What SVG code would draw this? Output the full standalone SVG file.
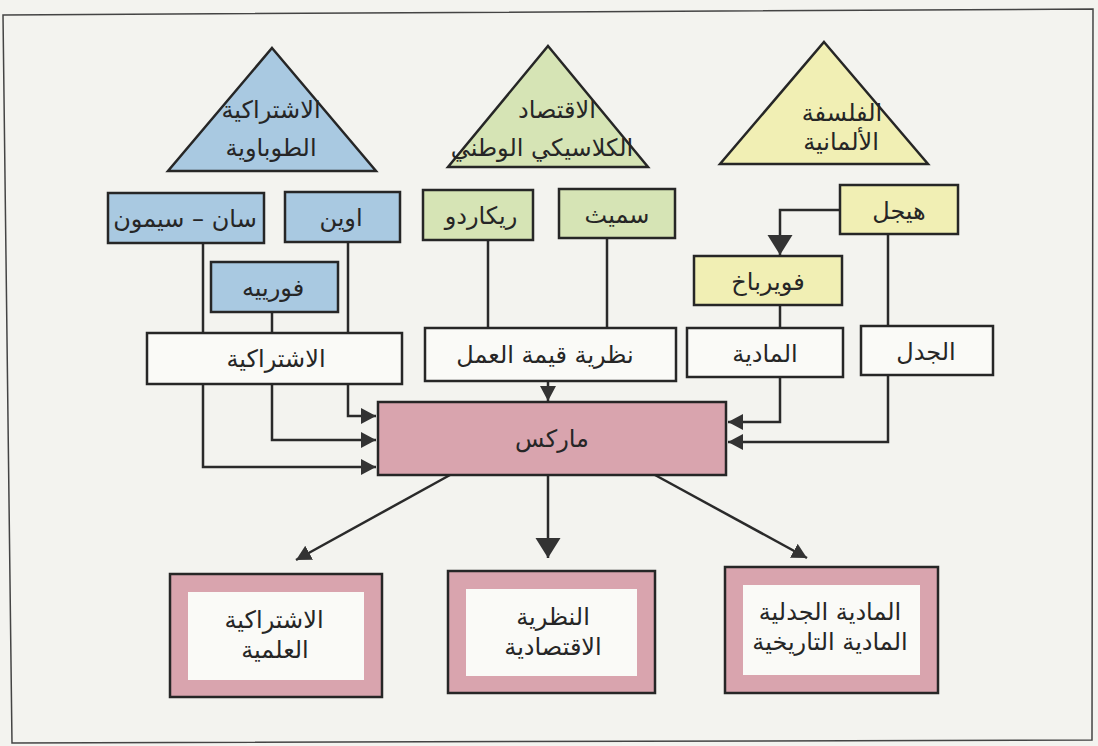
<svg xmlns="http://www.w3.org/2000/svg" width="1098" height="746" viewBox="0 0 1098 746">
<defs>
<style>
.t{font-family:"DejaVu Sans","Noto Sans",sans-serif;font-size:24px;text-anchor:middle;fill:#262626}
.box{stroke:#262626;stroke-width:2.5}
.blue{fill:#a9c9e1}
.green{fill:#d6e4b5}
.yellow{fill:#f1efb4}
.white{fill:#fafaf7}
.pink{fill:#d9a4ae}
.inner{fill:#fafaf7;stroke:none}
.c{fill:none;stroke:#2a2a2a;stroke-width:2.5}
</style>
<marker id="a" markerUnits="userSpaceOnUse" markerWidth="16" markerHeight="16" refX="15" refY="8" orient="auto"><path d="M0,0 L15,8 L0,16 z" fill="#333"/></marker>
<marker id="b" markerUnits="userSpaceOnUse" markerWidth="22" markerHeight="26" refX="20" refY="12.5" orient="auto"><path d="M0,0 L20,12.5 L0,25 z" fill="#333"/></marker>
</defs>
<rect x="0" y="0" width="1098" height="746" fill="#f3f3ef"/>
<path d="M3,15 L1093,9 L1092,740 L12,743 Z" fill="none" stroke="#444" stroke-width="1.5"/>

<g id="connectors">
<path class="c" d="M203,243 V333"/>
<path class="c" d="M272,312 V333"/>
<path class="c" d="M348,242 V333"/>
<path class="c" d="M203,384 V467 H376" marker-end="url(#a)"/>
<path class="c" d="M272,384 V440 H376" marker-end="url(#a)"/>
<path class="c" d="M348,384 V416 H376" marker-end="url(#a)"/>
<path class="c" d="M488,240 V328"/>
<path class="c" d="M607,238 V328"/>
<path class="c" d="M548,381 V401" marker-end="url(#a)"/>
<path class="c" d="M840,210 H780 V255" marker-end="url(#b)"/>
<path class="c" d="M780,305 V328"/>
<path class="c" d="M888,234 V326"/>
<path class="c" d="M780,377 V422 H728" marker-end="url(#a)"/>
<path class="c" d="M888,375 V442 H728" marker-end="url(#a)"/>
<path class="c" d="M450,475 L296,560" marker-end="url(#a)" stroke-width="2"/>
<path class="c" d="M548,475 V558" marker-end="url(#b)"/>
<path class="c" d="M655,475 L807,558" marker-end="url(#a)" stroke-width="2"/>
</g>

<g id="utopian">
<polygon class="box blue" points="272,48 376,171 168,171"/>
<text class="t" x="271" y="118">الاشتراكية</text>
<text class="t" x="271" y="156">الطوباوية</text>
</g>
<g id="classical">
<polygon class="box green" points="548,46 648,167 448,167"/>
<text class="t" x="557" y="118">الاقتصاد</text>
<text class="t" x="542" y="156">الكلاسيكي الوطني</text>
</g>
<g id="german">
<polygon class="box yellow" points="824,42 928,164 720,164"/>
<text class="t" x="842" y="121">الفلسفة</text>
<text class="t" x="841" y="150">الألمانية</text>
</g>

<g id="saint-simon"><rect class="box blue" x="108" y="193" width="156" height="50"/><text class="t" x="185" y="227">سان – سيمون</text></g>
<g id="owen"><rect class="box blue" x="285" y="192" width="115" height="50"/><text class="t" x="341" y="226">اوين</text></g>
<g id="fourier"><rect class="box blue" x="211" y="262" width="127" height="50"/><text class="t" x="273" y="296">فورييه</text></g>
<g id="socialism"><rect class="box white" x="147" y="333" width="255" height="51"/><text class="t" x="276" y="367">الاشتراكية</text></g>

<g id="ricardo"><rect class="box green" x="423" y="190" width="110" height="50"/><text class="t" x="481" y="224">ريكاردو</text></g>
<g id="smith"><rect class="box green" x="559" y="189" width="116" height="49"/><text class="t" x="617" y="223">سميث</text></g>
<g id="labor-value"><rect class="box white" x="425" y="328" width="251" height="53"/><text class="t" x="545" y="363">نظرية قيمة العمل</text></g>

<g id="hegel"><rect class="box yellow" x="840" y="185" width="118" height="49"/><text class="t" x="899" y="219">هيجل</text></g>
<g id="feuerbach"><rect class="box yellow" x="694" y="256" width="148" height="49"/><text class="t" x="768" y="290">فويرباخ</text></g>
<g id="materialism"><rect class="box white" x="687" y="328" width="156" height="49"/><text class="t" x="765" y="362">المادية</text></g>
<g id="dialectic"><rect class="box white" x="861" y="326" width="132" height="49"/><text class="t" x="926" y="360">الجدل</text></g>

<g id="marx"><rect class="box pink" x="378" y="402" width="348" height="73"/><text class="t" x="552" y="447">ماركس</text></g>

<g id="scientific-socialism"><rect class="box pink" x="170" y="574" width="212" height="123"/><rect class="inner" x="188" y="592" width="176" height="88"/><text class="t" x="274" y="628">الاشتراكية</text><text class="t" x="275" y="658">العلمية</text></g>
<g id="economic-theory"><rect class="box pink" x="448" y="571" width="207" height="122"/><rect class="inner" x="466" y="589" width="171" height="87"/><text class="t" x="553" y="625">النظرية</text><text class="t" x="553" y="655">الاقتصادية</text></g>
<g id="dialectical-materialism"><rect class="box pink" x="725" y="567" width="213" height="126"/><rect class="inner" x="743" y="585" width="177" height="90"/><text class="t" x="830" y="620">المادية الجدلية</text><text class="t" x="830" y="650">المادية التاريخية</text></g>
</svg>
